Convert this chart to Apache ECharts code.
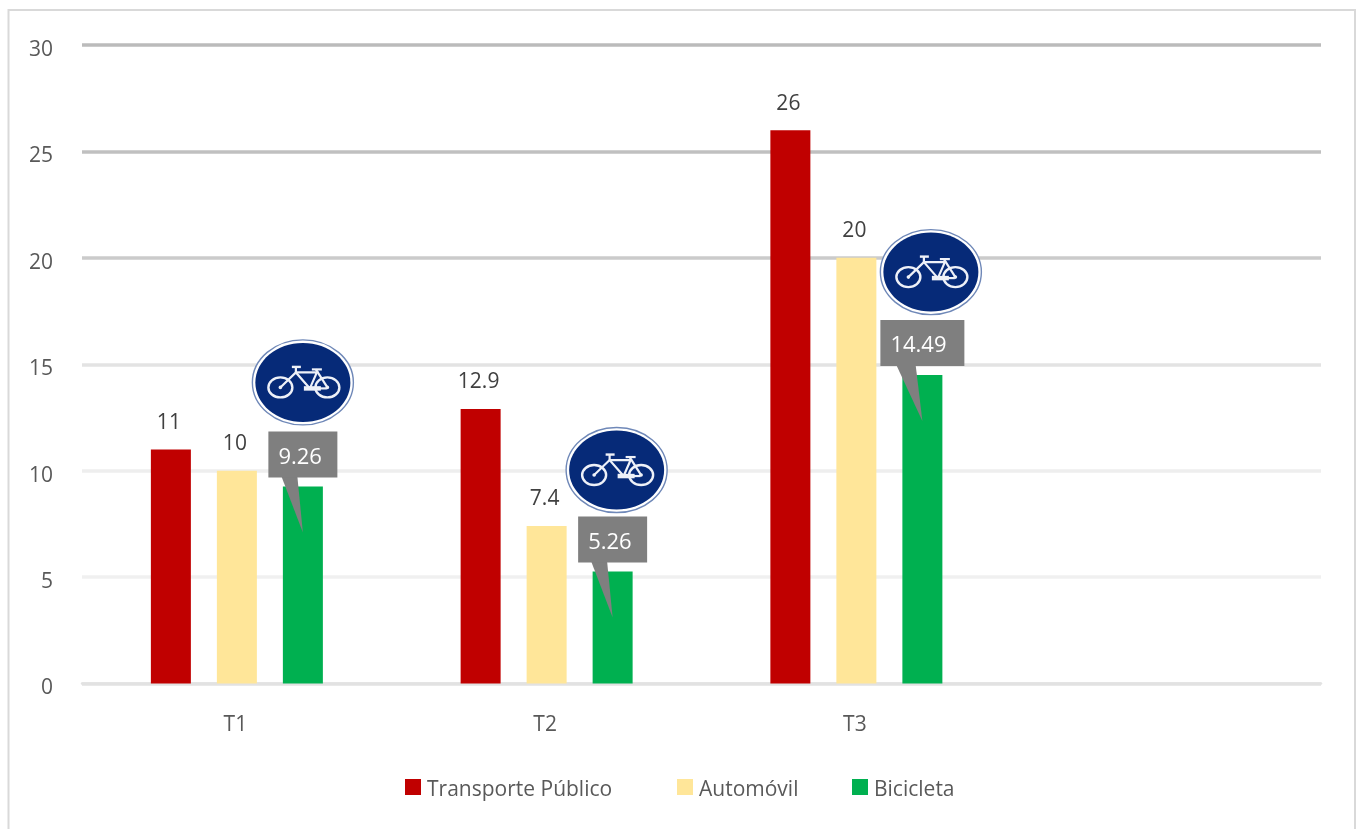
<!DOCTYPE html>
<html>
<head>
<meta charset="utf-8">
<style>html,body{margin:0;padding:0;background:#fff;overflow:hidden}#chart{width:1358px;height:829px}</style>
<script src="https://cdn.jsdelivr.net/npm/echarts@6/dist/echarts.min.js"></script>
</head>
<body>
<div id="chart"></div>
<script>
// Quarterly figures by mode of transport; the fourth band stays empty on purpose.
const categories = ['T1', 'T2', 'T3', ''];
const transportePublico = [11, 12.9, 26];
const automovil = [10, 7.4, 20];
const bicicleta = [9.26, 5.26, 14.49];

const FONT = '"Open Sans", sans-serif';
const BAR_WIDTH = 40;
const BIKE_BAR_SHIFT = 66;
// Sideways nudge and lift of each round sign, relative to its green bar.
const signShiftX = [0, 4, 8.5];
const signLift = [104, 101.5, 103];
// Gridline greys, from the value 0 line up to 30.
const gridGreys = ['#e2e2e2', '#f0f0f0', '#eeeeee', '#e3e3e3', '#cbcbcb', '#c0c0c0', '#bbbbbb'];

// Bicycle pictogram: sign-local coordinates, origin at the sign centre.
function bikeShapes(cx, cy) {
  const ink = '#eef1f8';
  const seg = (pts, w) => ({
    type: 'polyline', shape: { points: pts.map(p => [cx + p[0], cy + p[1]]) },
    style: { stroke: ink, fill: null, lineWidth: w || 2.2 }
  });
  const wheel = (x) => ({
    type: 'ellipse', shape: { cx: cx + x, cy: cy + 5, rx: 12, ry: 10 },
    style: { stroke: ink, fill: null, lineWidth: 2.4 }
  });
  const hub = (x) => ({
    type: 'circle', shape: { cx: cx + x, cy: cy + 5, r: 1.8 }, style: { fill: ink }
  });
  return [
    wheel(-22.5), wheel(24.5), hub(-22.5), hub(24.5),
    seg([[-22.5, 5], [-7, -10], [7, 6]]),
    seg([[-7, -10], [14, -10], [7, 6]]),
    seg([[13, -13], [24.5, 5]]),
    seg([[-11, -15.5], [-2, -15.5]], 2.4),
    seg([[-7, -15.5], [-7, -10]]),
    seg([[9, -13], [19, -13]], 2.2),
    seg([[7, 6], [24, 6]]),
    seg([[1, 6], [18, 6]], 4.5)
  ];
}

function renderCallout(params, api) {
  const i = params.dataIndex;
  const value = api.value(1);
  const top = api.coord([api.value(0), value]);
  const cx = top[0] + BIKE_BAR_SHIFT;
  const y = top[1];
  const text = String(bicicleta[i]);
  const w = text.length * 15 + 9;
  const rectTop = y - 55;
  const rectBottom = y - 9;
  const sx = cx + signShiftX[i];
  const sy = y - signLift[i];
  return {
    type: 'group',
    children: [
      { type: 'ellipse', shape: { cx: sx, cy: sy, rx: 50.5, ry: 42.5 }, style: { fill: '#fff', stroke: '#6f88b8', lineWidth: 1.4 } },
      { type: 'ellipse', shape: { cx: sx, cy: sy, rx: 47.5, ry: 39.5 }, style: { fill: '#062a78' } },
      ...bikeShapes(sx, sy),
      {
        type: 'polygon',
        shape: { points: [[cx - w * 0.31, rectBottom - 1], [cx - w * 0.08, rectBottom - 1], [cx, y + 46]] },
        style: { fill: '#7f7f7f' }
      },
      { type: 'rect', shape: { x: cx - w / 2, y: rectTop, width: w, height: 46 }, style: { fill: '#7f7f7f' } },
      {
        type: 'text',
        style: {
          x: cx - w / 2 + 10, y: rectTop + 26, text: text, fill: '#fff',
          font: '22px ' + FONT, textAlign: 'left', textVerticalAlign: 'middle'
        }
      }
    ]
  };
}

function swatchLegend(name, left) {
  return {
    data: [name], left: left, top: 779, icon: 'rect', itemWidth: 16, itemHeight: 16, itemGap: 0,
    padding: 0, selectedMode: false,
    formatter: '{t|{name}}',
    textStyle: {
      rich: {
        t: { color: '#595959', fontFamily: FONT, fontSize: 21, lineHeight: 28, verticalAlign: 'bottom' }
      },
      padding: [0, 0, 0, 1]
    }
  };
}

function barSeries(name, values, color, showLabel) {
  return {
    name: name, type: 'bar', data: values, barWidth: BAR_WIDTH, barGap: '65%',
    itemStyle: { color: color },
    label: {
      show: showLabel, position: 'top', distance: 16, offset: [-2, 0], color: '#404040',
      fontFamily: FONT, fontSize: 21
    }
  };
}

const chart = echarts.init(document.getElementById('chart'), null, { renderer: 'canvas' });
chart.setOption({
  animation: false,
  backgroundColor: '#ffffff',
  graphic: [{
    type: 'rect', silent: true, z: -10,
    shape: { x: 8.5, y: 10, width: 1346.5, height: 900 },
    style: { fill: '#fff', stroke: '#d9d9d9', lineWidth: 2 }
  }],
  grid: { left: 82, right: 37, top: 45, height: 638.5 },
  legend: [
    swatchLegend('Transporte Público', 405),
    swatchLegend('Automóvil', 677),
    swatchLegend('Bicicleta', 852)
  ],
  xAxis: {
    type: 'category', data: categories,
    axisLine: { lineStyle: { color: '#e2e2e2', width: 2.5 } },
    axisTick: { show: false },
    axisLabel: { color: '#595959', fontFamily: FONT, fontSize: 21, margin: 31, padding: [0, 3, 0, 0] }
  },
  yAxis: {
    type: 'value', min: 0, max: 30, interval: 5,
    axisLine: { show: false }, axisTick: { show: false },
    axisLabel: { color: '#595959', fontFamily: FONT, fontSize: 21, margin: 29, verticalAlign: 'top', lineHeight: 10 },
    splitLine: { lineStyle: { color: gridGreys, width: 3.5 } }
  },
  series: [
    barSeries('Transporte Público', transportePublico, '#c00000', true),
    barSeries('Automóvil', automovil, '#ffe699', true),
    barSeries('Bicicleta', bicicleta, '#00b050', false),
    {
      type: 'custom', renderItem: renderCallout, z: 5, silent: true,
      encode: { x: 0, y: 1 },
      data: bicicleta.map((v, i) => [i, v])
    }
  ]
});
</script>
</body>
</html>
